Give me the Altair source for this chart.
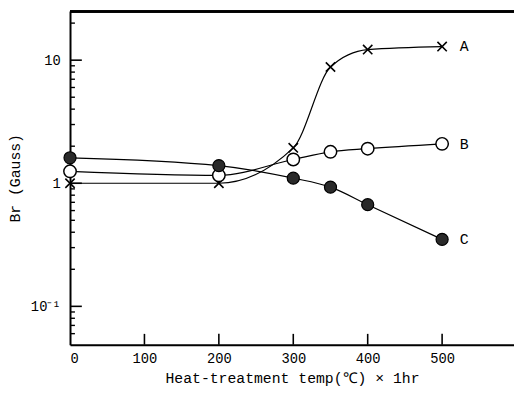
import altair as alt
import pandas as pd

temps = [0, 200, 300, 350, 400, 500]
series_a = [1.0, 1.0, 1.94, 8.8, 12.2, 12.9]
series_b = [1.25, 1.16, 1.56, 1.80, 1.91, 2.09]
series_c = [1.61, 1.39, 1.10, 0.93, 0.67, 0.35]
series_names = ["A", "B", "C"]

x_ticks = [100, 200, 300, 400, 500]
x_labels = [0, 100, 200, 300, 400, 500]
y_major = [0.1, 1, 10]
y_minor = [0.06, 0.07, 0.08, 0.09, 0.2, 0.3, 0.4, 0.5, 0.6, 0.7, 0.8, 0.9,
           2, 3, 4, 5, 6, 7, 8, 9, 20]

FONT = "Liberation Mono"
W, H = 451, 339

rows = []
for name, vals in zip(series_names, [series_a, series_b, series_c]):
    for t, v in zip(temps, vals):
        rows.append({"series": name, "temp": t, "br": v})
df = pd.DataFrame(rows)

xscale = alt.Scale(domain=[0, 596.6], nice=False, zero=False)
yscale = alt.Scale(type="log", domain=[0.0488, 25.1], nice=False)

XT = "Heat-treatment temp(℃) × 1hr"
YT = "Br (Gauss)"
xaxis = alt.Axis(values=x_labels, ticks=False, grid=False, domainWidth=2, domainColor="black",
                 labelFont=FONT, labelFontSize=14, labelColor="black", labelPadding=7,
                 titleFont=FONT, titleFontSize=15,
                 titleFontWeight="normal", titleColor="black", titlePadding=5)
yaxis = alt.Axis(values=y_major, ticks=False, grid=False, domainWidth=2, domainColor="black",
                 labelExpr="datum.value < 0.5 ? '10⁻¹' : (datum.value > 5 ? '10' : '1')",
                 labelFont=FONT, labelFontSize=14, labelColor="black", labelPadding=10,
                 titleFont=FONT, titleFontSize=15, titleFontWeight="normal",
                 titleColor="black", titlePadding=8)

base = alt.Chart(df).encode(
    x=alt.X("temp:Q", scale=xscale, axis=xaxis, title=XT),
    y=alt.Y("br:Q", scale=yscale, axis=yaxis, title=YT),
)

lines = base.mark_line(interpolate="monotone", color="black", strokeWidth=1.2).encode(
    detail="series:N")

pts_a = base.transform_filter(alt.datum.series == "A").mark_point(
    shape="M-1,-1L1,1M-1,1L1,-1", size=90, stroke="black", strokeWidth=1.6, filled=False, opacity=1)
pts_b = base.transform_filter(alt.datum.series == "B").mark_point(
    shape="circle", size=160, filled=True, fill="white", stroke="black", strokeWidth=1.5, opacity=1)
pts_c = base.transform_filter(alt.datum.series == "C").mark_point(
    shape="circle", size=150, filled=True, fill="#2a2a2a", stroke="black", strokeWidth=1.2, opacity=1)

lab = base.transform_filter(alt.datum.temp == 500).mark_text(
    font=FONT, fontSize=15, dx=18, align="left", color="black").encode(text="series:N")

ydf_major = pd.DataFrame({"v": y_major})
ydf_minor = pd.DataFrame({"v": y_minor})
xdf = pd.DataFrame({"t": x_ticks})

ymaj = alt.Chart(ydf_major).mark_rule(color="black", strokeWidth=1.6).encode(
    y=alt.Y("v:Q", scale=yscale, axis=yaxis, title=YT), x=alt.value(0), x2=alt.value(12))
ymin = alt.Chart(ydf_minor).mark_rule(color="black", strokeWidth=1.4).encode(
    y=alt.Y("v:Q", scale=yscale, axis=yaxis, title=YT), x=alt.value(0), x2=alt.value(5))
xtk = alt.Chart(xdf).mark_rule(color="black", strokeWidth=1.6).encode(
    x=alt.X("t:Q", scale=xscale, axis=xaxis, title=XT), y=alt.value(H), y2=alt.value(H - 11))
top = alt.Chart(xdf).mark_rule(color="black", strokeWidth=2).encode(
    x=alt.value(0), x2=alt.value(W), y=alt.value(0.5))

chart = alt.layer(lines, pts_a, pts_b, pts_c, lab, ymaj, ymin, xtk, top).properties(
    width=W, height=H,
    autosize=alt.AutoSizeParams(type="none"),
    padding={"left": 63, "top": 0, "right": 0, "bottom": 43},
).configure_view(stroke=None).configure(background="white")

chart.save("out.html", embed_options={"renderer": "svg", "actions": False})
